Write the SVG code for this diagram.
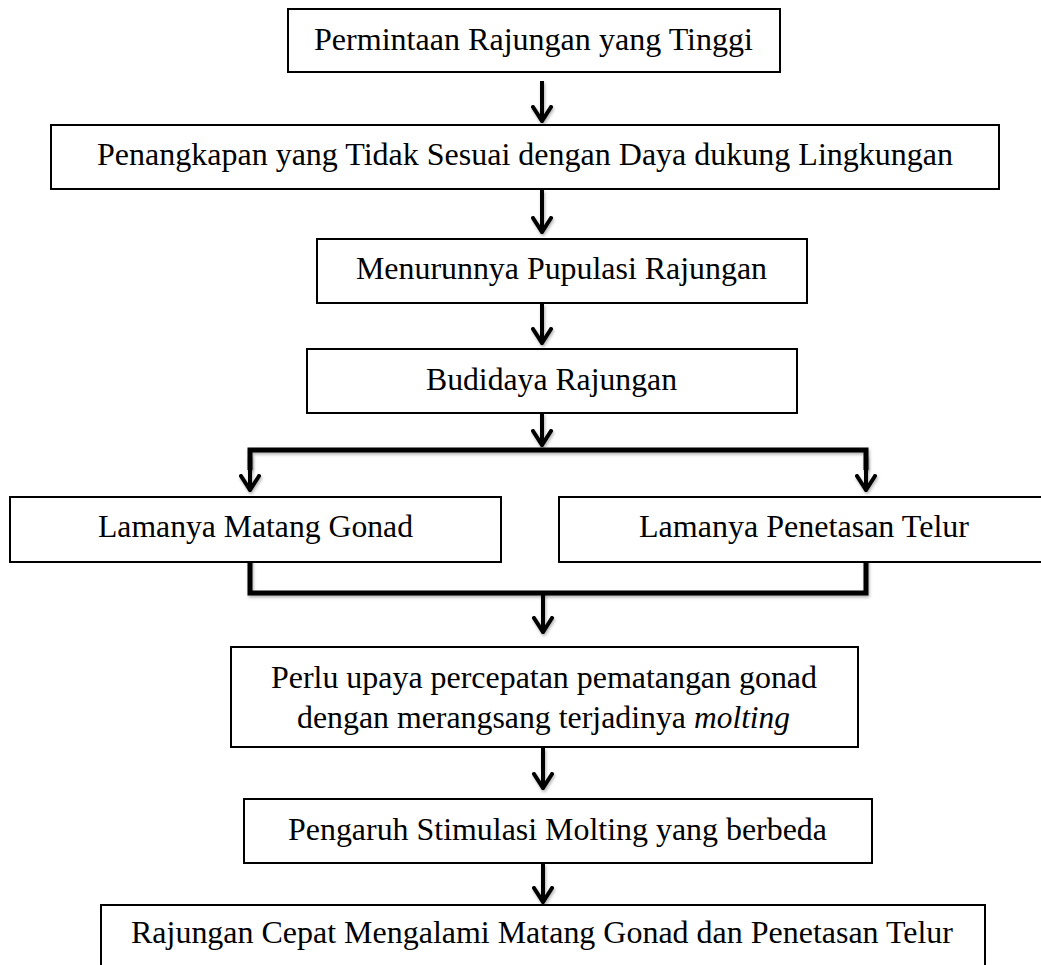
<svg xmlns="http://www.w3.org/2000/svg" width="1041" height="965" viewBox="0 0 1041 965">
<style>
.box{fill:#fff;stroke:#000;stroke-width:2}
.t{font-family:"Liberation Serif","Times New Roman",serif;font-size:32px;fill:#000}
.i{font-style:italic}
.c{fill:none;stroke:#000;stroke-width:4;filter:url(#sh)}
.b{fill:none;stroke:#000;stroke-width:5;stroke-linejoin:miter;filter:url(#sh)}
</style>
<defs>
<filter id="sh" filterUnits="userSpaceOnUse" x="0" y="0" width="1041" height="965">
<feDropShadow dx="1" dy="2" stdDeviation="1.5" flood-color="#000" flood-opacity="0.3"/>
</filter>
<marker id="ah" viewBox="0 0 18 22" refX="16" refY="11" markerWidth="18" markerHeight="22" markerUnits="userSpaceOnUse" orient="auto">
<path d="M2,2 L16,11 L2,20" fill="none" stroke="#000" stroke-width="4" stroke-linecap="round" stroke-linejoin="miter"/>
</marker>
</defs>
<g id="connectors">
<line class="c" x1="542" y1="81" x2="542" y2="121" marker-end="url(#ah)"/>
<line class="c" x1="542" y1="190" x2="542" y2="232" marker-end="url(#ah)"/>
<line class="c" x1="542" y1="304" x2="542" y2="343" marker-end="url(#ah)"/>
<line class="c" x1="542" y1="413" x2="542" y2="445" marker-end="url(#ah)"/>
<polyline class="b" points="250,470 250,450 866,450 866,470"/>
<line class="c" x1="250" y1="455" x2="250" y2="490" marker-end="url(#ah)"/>
<line class="c" x1="866" y1="455" x2="866" y2="490" marker-end="url(#ah)"/>
<polyline class="b" points="250,552 250,593 866,593 866,552"/>
<line class="c" x1="543" y1="593" x2="543" y2="632" marker-end="url(#ah)"/>
<line class="c" x1="543" y1="748" x2="543" y2="788" marker-end="url(#ah)"/>
<line class="c" x1="543" y1="864" x2="543" y2="902" marker-end="url(#ah)"/>
</g>
<g id="n1"><rect class="box" x="288" y="9" width="492" height="63"/><text class="t" x="314" y="50" textLength="439" lengthAdjust="spacingAndGlyphs">Permintaan Rajungan yang Tinggi</text></g>
<g id="n2"><rect class="box" x="51" y="125" width="948" height="64"/><text class="t" x="97" y="165" textLength="856" lengthAdjust="spacingAndGlyphs">Penangkapan yang Tidak Sesuai dengan Daya dukung Lingkungan</text></g>
<g id="n3"><rect class="box" x="317" y="239" width="490" height="64"/><text class="t" x="356" y="279" textLength="411" lengthAdjust="spacingAndGlyphs">Menurunnya Pupulasi Rajungan</text></g>
<g id="n4"><rect class="box" x="307" y="349" width="490" height="64"/><text class="t" x="426" y="390" textLength="251" lengthAdjust="spacingAndGlyphs">Budidaya Rajungan</text></g>
<g id="n5"><rect class="box" x="10" y="497" width="491" height="65"/><text class="t" x="98" y="537" textLength="315" lengthAdjust="spacingAndGlyphs">Lamanya Matang Gonad</text></g>
<g id="n6"><rect class="box" x="559" y="497" width="490" height="65"/><text class="t" x="639" y="537" textLength="330" lengthAdjust="spacingAndGlyphs">Lamanya Penetasan Telur</text></g>
<g id="n7"><rect class="box" x="231" y="647" width="627" height="100"/>
<text class="t" x="271" y="688" textLength="546" lengthAdjust="spacingAndGlyphs">Perlu upaya percepatan pematangan gonad</text>
<text class="t" x="297" y="728" textLength="389" lengthAdjust="spacingAndGlyphs">dengan merangsang terjadinya</text>
<text class="t i" x="694" y="728" textLength="96" lengthAdjust="spacingAndGlyphs">molting</text></g>
<g id="n8"><rect class="box" x="244" y="799" width="628" height="64"/><text class="t" x="288" y="840" textLength="539" lengthAdjust="spacingAndGlyphs">Pengaruh Stimulasi Molting yang berbeda</text></g>
<g id="n9"><rect class="box" x="101" y="905" width="884" height="70"/><text class="t" x="131" y="943" textLength="822" lengthAdjust="spacingAndGlyphs">Rajungan Cepat Mengalami Matang Gonad dan Penetasan Telur</text></g>
</svg>
